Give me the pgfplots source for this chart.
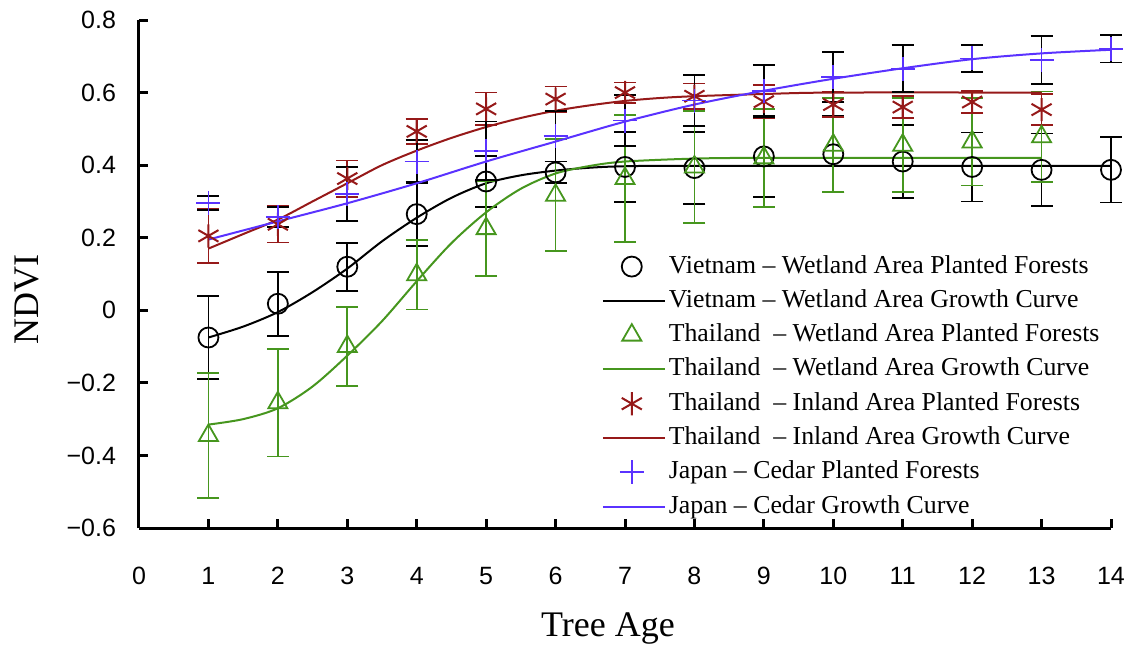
\documentclass[border=0pt]{standalone}
\usepackage{fontspec}
\setmainfont{Liberation Serif}
\setsansfont{Liberation Sans}
\usepackage{pgfplots}
\pgfplotsset{compat=1.18}
\usepackage{pgfplotstable}
\definecolor{thw}{RGB}{70,150,30}
\definecolor{thi}{RGB}{150,25,25}
\definecolor{jp}{RGB}{90,50,255}
\pgfplotsset{
  legmark/.style={legend image code/.code={\draw[##1] plot coordinates {(14.5pt,0pt)};}},
  legline/.style={legend image code/.code={\draw[##1] (0pt,0pt) -- (31pt,0pt);}},
}

\pgfplotstableread{
x y e
1 -0.075 0.115
2 0.018 0.088
3 0.120 0.066
4 0.265 0.088
5 0.355 0.070
6 0.380 0.030
7 0.395 0.097
8 0.392 0.100
9 0.424 0.112
10 0.430 0.105
11 0.410 0.100
12 0.395 0.095
13 0.387 0.100
14 0.387 0.090
}\vnpts
\pgfplotstableread{
x y
1 -0.075
1.5 -0.045
2 -0.005
2.5 0.050
3 0.115
3.5 0.190
4 0.255
4.5 0.310
5 0.350
5.5 0.372
6 0.385
6.5 0.393
7 0.397
8 0.398
14 0.398
}\vncur
\pgfplotstableread{
x y e
1 -0.345 0.172
2 -0.255 0.148
3 -0.100 0.108
4 0.098 0.096
5 0.225 0.130
6 0.317 0.154
7 0.363 0.175
8 0.395 0.155
9 0.420 0.135
10 0.455 0.130
11 0.455 0.130
12 0.464 0.120
13 0.478 0.125
}\thwpts
\pgfplotstableread{
x y
1 -0.315
1.5 -0.300
2 -0.270
2.5 -0.210
3 -0.125
3.5 -0.030
4 0.080
4.5 0.185
5 0.270
5.5 0.335
6 0.377
6.5 0.398
7 0.410
8 0.418
9 0.420
13 0.420
}\thwcur
\pgfplotstableread{
x y e
1 0.205 0.075
2 0.237 0.050
3 0.363 0.050
4 0.493 0.035
5 0.555 0.045
6 0.582 0.035
7 0.600 0.028
8 0.590 0.035
9 0.575 0.045
10 0.567 0.035
11 0.560 0.030
12 0.574 0.030
13 0.553 0.042
}\thipts
\pgfplotstableread{
x y
1 0.170
1.5 0.210
2 0.250
2.5 0.300
3 0.350
3.5 0.400
4 0.440
4.5 0.475
5 0.505
5.5 0.530
6 0.550
6.5 0.565
7 0.577
7.5 0.585
8 0.590
9 0.596
10 0.600
13 0.600
}\thicur
\pgfplotstableread{
x y e
1 0.296 0.020
2 0.257 0.027
3 0.320 0.075
4 0.410 0.060
5 0.440 0.080
6 0.480 0.070
7 0.523 0.070
8 0.578 0.070
9 0.605 0.072
10 0.643 0.068
11 0.666 0.065
12 0.694 0.037
13 0.690 0.067
14 0.721 0.038
}\jppts
\pgfplotstableread{
x y
1 0.195
2 0.245
3 0.295
4 0.350
5 0.410
6 0.465
7 0.520
8 0.567
9 0.605
10 0.638
11 0.667
12 0.692
13 0.708
14 0.718
}\jpcur

\begin{document}
\begin{tikzpicture}
\path[use as bounding box] (-69.5pt,-60pt) rectangle (496pt,264pt);
\begin{axis}[
  width=486pt, height=254pt, scale only axis,
  xmin=0, xmax=14, ymin=-0.6, ymax=0.8,
  clip=false,
  axis x line=bottom, axis y line=left,
  axis line style={-, line width=1.5pt, black},
  tick align=inside,
  major tick length=4.5pt,
  tick style={line width=1.5pt, black},
  xtick={0,1,2,3,4,5,6,7,8,9,10,11,12,13,14},
  ytick={-0.6,-0.4,-0.2,0,0.2,0.4,0.6,0.8},
  yticklabels={−0.6,−0.4,−0.2,0,0.2,0.4,0.6,0.8},
  /pgf/number format/assume math mode=true,
  ticklabel style={font=\sffamily\fontsize{12.5}{14}\selectfont},
  xticklabel style={yshift=-16pt},
  yticklabel style={xshift=-8pt},
  xlabel={Tree Age},
  ylabel={NDVI},
  label style={font=\fontsize{18}{20}\selectfont},
  xlabel style={at={(axis description cs:0.4825,-0.2126)}, anchor=base},
  ylabel style={at={(axis description cs:-0.1029,0.449)}, anchor=base},
  legline,
  legend style={draw=none, fill=none, at={(axis cs:6.66,0.156)}, anchor=north west,
    font=\fontsize{12.9}{14}\selectfont, inner sep=0pt,
    row sep=4.64pt,
    nodes={inner sep=0pt, text height=9.5pt, text depth=3pt},
    /tikz/every odd column/.append style={column sep=1.5pt}},
  legend cell align=left,
]
% Vietnam
\addplot[only marks, mark=o, mark size=5pt, black, line width=0.9pt, legmark,
  error bars/.cd, y dir=both, y explicit,
  error bar style={line width=0.9pt, black},
  error mark options={rotate=90, mark size=5.5pt, line width=0.9pt, black}]
  table[x=x, y=y, y error=e]{\vnpts};
\addlegendentry{Vietnam – Wetland Area Planted Forests}
\addplot[black, line width=1pt, smooth, no marks] table[x=x, y=y]{\vncur};
\addlegendentry{Vietnam – Wetland Area Growth Curve}
% Thailand wetland
\addplot[only marks, mark=triangle, mark size=5.5pt, thw, line width=0.9pt, legmark,
  error bars/.cd, y dir=both, y explicit,
  error bar style={line width=0.9pt, thw},
  error mark options={rotate=90, mark size=5.5pt, line width=0.9pt, thw}]
  table[x=x, y=y, y error=e]{\thwpts};
\addlegendentry{Thailand~ – Wetland Area Planted Forests}
\addplot[thw, line width=1pt, smooth, no marks] table[x=x, y=y]{\thwcur};
\addlegendentry{Thailand~ – Wetland Area Growth Curve}
% Thailand inland
\addplot[only marks, mark=asterisk, mark size=5.8pt, thi, line width=1pt, legmark,
  error bars/.cd, y dir=both, y explicit,
  error bar style={line width=0.9pt, thi},
  error mark options={rotate=90, mark size=5.5pt, line width=0.9pt, thi}]
  table[x=x, y=y, y error=e]{\thipts};
\addlegendentry{Thailand~ – Inland Area Planted Forests}
\addplot[thi, line width=1pt, smooth, no marks] table[x=x, y=y]{\thicur};
\addlegendentry{Thailand~ – Inland Area Growth Curve}
% Japan
\addplot[only marks, mark=+, mark size=6pt, jp, line width=0.9pt, legmark,
  error bars/.cd, y dir=both, y explicit,
  error bar style={line width=0.9pt, black},
  error mark options={rotate=90, mark size=5.5pt, line width=0.9pt, black}]
  table[x=x, y=y, y error=e]{\jppts};
\addlegendentry{Japan – Cedar Planted Forests}
\addplot[jp, line width=1pt, smooth, no marks] table[x=x, y=y]{\jpcur};
\addlegendentry{Japan – Cedar Growth Curve}
\end{axis}
\end{tikzpicture}
\end{document}
